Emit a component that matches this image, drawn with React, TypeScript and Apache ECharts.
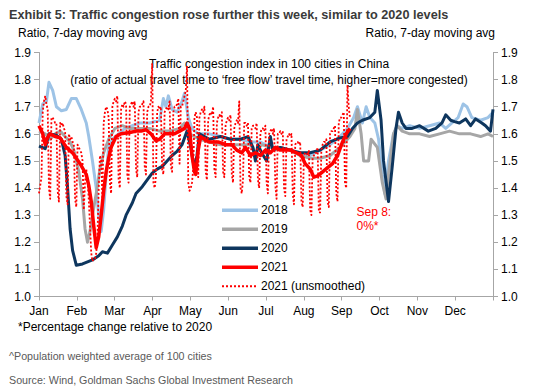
import React, { useEffect, useRef } from "react";
import * as echarts from "echarts";

const monthLabels = ["Jan", "Feb", "Mar", "Apr", "May", "Jun", "Jul", "Aug", "Sep", "Oct", "Nov", "Dec", ""];
const yMin = 1.0;
const yMax = 1.9;
const yStep = 0.1;
const legendNames = ["2018", "2019", "2020", "2021", "2021 (unsmoothed)"];

// [day of year, ratio]
const s2018: [number, number][] = [
  [0, 1.64], [3, 1.71], [6, 1.72], [8, 1.79], [11, 1.76], [14, 1.70], [18, 1.685], [22, 1.69],
  [26, 1.73], [30, 1.73], [34, 1.69], [38, 1.64], [40, 1.59], [43, 1.5], [46, 1.4], [48, 1.3],
  [50, 1.24], [52, 1.32], [54, 1.45], [56, 1.55], [59, 1.58], [64, 1.6], [69, 1.62], [75, 1.63],
  [81, 1.64], [89, 1.64], [97, 1.65], [100, 1.73], [102, 1.7], [104, 1.74], [107, 1.69], [111, 1.68],
  [115, 1.72], [117, 1.75], [120, 1.66], [123, 1.62], [128, 1.6], [137, 1.6], [146, 1.59], [154, 1.58],
  [162, 1.58], [170, 1.57], [178, 1.57], [186, 1.55], [194, 1.55], [202, 1.54], [210, 1.52], [218, 1.52],
  [226, 1.54], [234, 1.56], [242, 1.59], [248, 1.62], [253, 1.66], [256, 1.70], [260, 1.64], [263, 1.70],
  [266, 1.66], [270, 1.64], [273, 1.58], [276, 1.45], [278, 1.38], [281, 1.5], [285, 1.6], [288, 1.63],
  [292, 1.62], [298, 1.63], [306, 1.62], [314, 1.63], [322, 1.64], [327, 1.62], [332, 1.64], [337, 1.66],
  [341, 1.71], [344, 1.70], [348, 1.66], [355, 1.65], [361, 1.66], [365, 1.68],
];

const s2019: [number, number][] = [
  [0, 1.61], [5, 1.60], [9, 1.58], [13, 1.60], [17, 1.61], [21, 1.59], [25, 1.57], [28, 1.54],
  [32, 1.46], [35, 1.36], [37, 1.25], [39, 1.2], [41, 1.24], [43, 1.3], [46, 1.38], [49, 1.47],
  [52, 1.53], [56, 1.58], [61, 1.62], [67, 1.63], [73, 1.62], [81, 1.62], [89, 1.62], [97, 1.61],
  [105, 1.61], [113, 1.62], [117, 1.64], [121, 1.6], [129, 1.58], [137, 1.57], [146, 1.56], [154, 1.56],
  [162, 1.56], [170, 1.56], [174, 1.53], [179, 1.56], [186, 1.55], [194, 1.55], [202, 1.54], [210, 1.52],
  [218, 1.51], [226, 1.51], [234, 1.52], [242, 1.55], [250, 1.59], [254, 1.62], [256, 1.69], [259, 1.6],
  [261, 1.5], [265, 1.5], [267, 1.58], [272, 1.55], [276, 1.42], [279, 1.36], [281, 1.45], [285, 1.6],
  [288, 1.63], [292, 1.61], [298, 1.6], [306, 1.6], [314, 1.59], [322, 1.6], [330, 1.61], [338, 1.6],
  [347, 1.6], [355, 1.59], [361, 1.6], [365, 1.59],
];

const s2020: [number, number][] = [
  [0, 1.555], [5, 1.545], [8, 1.60], [14, 1.595], [18, 1.58], [21, 1.52], [23, 1.40], [25, 1.25],
  [27, 1.17], [30, 1.115], [35, 1.12], [43, 1.135], [48, 1.15], [51, 1.165], [55, 1.16], [59, 1.19],
  [63, 1.22], [67, 1.26], [70, 1.3], [75, 1.345], [78, 1.38], [83, 1.405], [87, 1.43], [91, 1.455],
  [95, 1.47], [99, 1.48], [103, 1.5], [107, 1.52], [111, 1.535], [115, 1.56], [119, 1.61], [122, 1.55],
  [125, 1.47], [127, 1.52], [129, 1.6], [133, 1.59], [137, 1.58], [146, 1.59], [154, 1.58], [162, 1.58],
  [168, 1.59], [172, 1.55], [174, 1.5], [176, 1.56], [179, 1.53], [183, 1.5], [186, 1.59], [188, 1.54],
  [194, 1.55], [202, 1.54], [210, 1.53], [218, 1.53], [226, 1.54], [234, 1.57], [242, 1.585], [248, 1.59],
  [252, 1.62], [256, 1.64], [260, 1.65], [266, 1.66], [270, 1.68], [272, 1.76], [275, 1.65], [277, 1.5],
  [281, 1.35], [284, 1.48], [287, 1.62], [289, 1.68], [292, 1.64], [295, 1.62], [300, 1.62], [306, 1.63],
  [313, 1.61], [319, 1.62], [324, 1.64], [327, 1.67], [331, 1.65], [334, 1.645], [338, 1.64], [343, 1.655],
  [347, 1.63], [351, 1.655], [356, 1.64], [359, 1.63], [363, 1.61], [365, 1.69],
];

const s2021: [number, number][] = [
  [0, 1.63], [3, 1.60], [5, 1.56], [6, 1.58], [9, 1.60], [13, 1.59], [17, 1.585], [22, 1.55],
  [27, 1.53], [33, 1.49], [38, 1.45], [40, 1.41], [42, 1.35], [44, 1.26], [46, 1.18], [48, 1.22],
  [50, 1.3], [52, 1.39], [54, 1.46], [56, 1.51], [58, 1.55], [62, 1.59], [66, 1.60], [73, 1.605],
  [78, 1.61], [82, 1.61], [86, 1.615], [90, 1.60], [94, 1.575], [97, 1.58], [101, 1.60], [105, 1.60],
  [109, 1.60], [113, 1.61], [117, 1.62], [119, 1.64], [121, 1.62], [123, 1.52], [125, 1.46], [126, 1.45],
  [128, 1.54], [130, 1.59], [133, 1.58], [137, 1.57], [144, 1.57], [150, 1.56], [155, 1.56], [159, 1.54],
  [163, 1.53], [166, 1.55], [170, 1.52], [174, 1.53], [178, 1.52], [182, 1.54], [186, 1.53], [190, 1.55],
  [194, 1.54], [202, 1.54], [207, 1.53], [211, 1.52], [214, 1.49], [218, 1.47], [221, 1.44], [224, 1.445],
  [228, 1.46], [232, 1.475], [236, 1.49], [240, 1.52], [244, 1.57], [247, 1.6], [250, 1.62],
];

// daily values from Jan 1 to Sep 8, 2021
const daily2021: number[] = [
  1.38, 1.41, 1.44,
  1.68, 1.72, 1.74, 1.71, 1.69, 1.40, 1.36,
  1.66, 1.66, 1.65, 1.64, 1.64, 1.39, 1.35,
  1.64, 1.63, 1.64, 1.62, 1.61, 1.37, 1.34,
  1.60, 1.58, 1.59, 1.57, 1.56, 1.36, 1.33,
  1.56, 1.55, 1.54, 1.53, 1.50, 1.32, 1.42,
  1.47, 1.43, 1.36, 1.26, 1.16, 1.13, 1.14,
  1.14, 1.16, 1.22, 1.40, 1.52, 1.50, 1.36,
  1.64, 1.68, 1.70, 1.69, 1.66, 1.42, 1.38,
  1.70, 1.72, 1.73, 1.72, 1.74, 1.43, 1.40,
  1.69, 1.71, 1.70, 1.72, 1.71, 1.45, 1.42,
  1.70, 1.71, 1.72, 1.70, 1.72, 1.47, 1.44,
  1.68, 1.70, 1.70, 1.71, 1.72, 1.48, 1.45,
  1.68, 1.70, 1.70, 1.72, 1.86, 1.42, 1.40,
  1.44, 1.68, 1.70, 1.69, 1.70, 1.47, 1.45,
  1.68, 1.69, 1.70, 1.69, 1.72, 1.48, 1.46,
  1.68, 1.70, 1.70, 1.71, 1.73, 1.49, 1.70,
  1.70, 1.72, 1.74, 1.76, 1.85, 1.42, 1.39,
  1.40, 1.42, 1.47, 1.66, 1.68, 1.66, 1.44,
  1.66, 1.68, 1.69, 1.68, 1.70, 1.46, 1.43,
  1.65, 1.67, 1.68, 1.67, 1.70, 1.47, 1.44,
  1.64, 1.66, 1.67, 1.66, 1.68, 1.46, 1.44,
  1.63, 1.65, 1.66, 1.65, 1.67, 1.45, 1.42,
  1.62, 1.64, 1.65, 1.64, 1.72, 1.40, 1.38,
  1.43, 1.64, 1.64, 1.63, 1.64, 1.44, 1.42,
  1.62, 1.63, 1.63, 1.62, 1.64, 1.43, 1.40,
  1.60, 1.62, 1.62, 1.61, 1.63, 1.42, 1.38,
  1.60, 1.61, 1.62, 1.60, 1.62, 1.41, 1.36,
  1.60, 1.60, 1.61, 1.60, 1.61, 1.40, 1.37,
  1.58, 1.59, 1.60, 1.59, 1.60, 1.38, 1.34,
  1.56, 1.57, 1.57, 1.56, 1.57, 1.35, 1.33,
  1.52, 1.53, 1.53, 1.52, 1.54, 1.32, 1.30,
  1.51, 1.52, 1.53, 1.53, 1.55, 1.31, 1.31,
  1.54, 1.56, 1.57, 1.57, 1.58, 1.35, 1.33,
  1.60, 1.61, 1.61, 1.62, 1.63, 1.38, 1.35,
  1.64, 1.66, 1.66, 1.67, 1.68, 1.42, 1.40,
  1.78, 1.70, 1.66,
];

const FONT = "'Liberation Sans', Arial, sans-serif";
const C2018 = "#9DC3E6";
const C2019 = "#A6A6A6";
const C2020 = "#0E365E";
const C2021 = "#FF0000";

export default function App() {
  const ref = useRef<HTMLDivElement>(null);
  useEffect(() => {
    if (!ref.current) return;
    const chart = echarts.init(ref.current, undefined, { renderer: "svg" });
    const yAxisCommon = {
      type: "value" as const,
      min: yMin,
      max: yMax,
      interval: yStep,
      splitLine: { show: false },
      axisLine: { show: true, lineStyle: { color: "#A6A6A6", width: 1 } },
      axisTick: { show: true, length: 5, lineStyle: { color: "#A6A6A6" } },
      axisLabel: {
        fontFamily: FONT,
        fontSize: 12,
        color: "#000",
        formatter: (v: number) => v.toFixed(1),
      },
    };
    const lineSeries = (name: string, data: [number, number][], color: string, width: number, type: any = "solid") => ({
      name,
      type: "line" as const,
      xAxisIndex: 1,
      yAxisIndex: 0,
      data,
      symbol: "none",
      showSymbol: false,
      smooth: false,
      lineStyle: { color, width, type, cap: "butt", join: "round" },
      itemStyle: { color },
    });
    const legendColors = [C2018, C2019, C2020, C2021, C2021];
    const legendY = [210.3, 229.3, 248.3, 267.3, 286.3];
    const legendGraphics: any[] = [];
    legendNames.forEach((name, i) => {
      const dotted = i === 4;
      legendGraphics.push({
        type: "line",
        shape: { x1: 222, y1: legendY[i], x2: 258, y2: legendY[i] },
        style: {
          stroke: legendColors[i],
          lineWidth: dotted ? 2 : 3.5,
          lineDash: dotted ? [2, 2] : null,
        },
      });
      legendGraphics.push({
        type: "text",
        x: 261,
        y: legendY[i],
        style: { text: name, fontFamily: FONT, fontSize: 12, fill: "#000", align: "left", verticalAlign: "middle" },
      });
    });
    chart.setOption({
      animation: false,
      backgroundColor: "#fff",
      grid: { left: 39, right: 41, top: 52.5, bottom: 95.5, containLabel: false },
      xAxis: [
        {
          type: "category",
          data: monthLabels,
          boundaryGap: false,
          position: "bottom",
          axisLine: { show: true, lineStyle: { color: "#A6A6A6" } },
          axisTick: { show: true, length: 4, interval: 0, lineStyle: { color: "#A6A6A6" } },
          axisLabel: { interval: 0, fontFamily: FONT, fontSize: 12, color: "#000", margin: 8 },
          splitLine: { show: false },
        },
        { type: "value", min: 0, max: 365, show: false },
      ],
      yAxis: [
        { ...yAxisCommon, position: "left", axisLabel: { ...yAxisCommon.axisLabel, margin: 8 } },
        { ...yAxisCommon, position: "right", axisLabel: { ...yAxisCommon.axisLabel, margin: 8 } },
      ],
      series: [
        lineSeries("2018", s2018, C2018, 3),
        lineSeries("2019", s2019, C2019, 3),
        lineSeries("2020", s2020, C2020, 3),
        lineSeries("2021 (unsmoothed)", daily2021.map((v, i) => [i, v] as [number, number]), C2021, 1.8, [2, 2]),
        lineSeries("2021", s2021, C2021, 3.5),
      ],
      graphic: [
        { type: "text", left: 9, top: 8, style: { text: "Exhibit 5: Traffic congestion rose further this week, similar to 2020 levels", fontFamily: FONT, fontSize: 12.7, fontWeight: "bold", fill: "#3A3A3A" } },
        { type: "text", left: 18, top: 27, style: { text: "Ratio, 7-day moving avg", fontFamily: FONT, fontSize: 12, fill: "#000" } },
        { type: "text", right: 39, top: 27, style: { text: "Ratio, 7-day moving avg", fontFamily: FONT, fontSize: 12, fill: "#000" } },
        { type: "text", x: 269, y: 64, style: { text: "Traffic congestion index in 100 cities in China", fontFamily: FONT, fontSize: 12, fill: "#000", align: "center", verticalAlign: "middle" } },
        { type: "text", x: 269, y: 80, style: { text: "(ratio of actual travel time to \u2018free flow\u2019 travel time, higher=more congested)", fontFamily: FONT, fontSize: 12, fill: "#000", align: "center", verticalAlign: "middle" } },
        { type: "text", x: 356.5, y: 212, style: { text: "Sep 8:", fontFamily: FONT, fontSize: 12, fill: "#FF0000", align: "left", verticalAlign: "middle" } },
        { type: "text", x: 356.5, y: 225.5, style: { text: "0%*", fontFamily: FONT, fontSize: 12, fill: "#FF0000", align: "left", verticalAlign: "middle" } },
        { type: "text", x: 18, y: 327, style: { text: "*Percentage change relative to 2020", fontFamily: FONT, fontSize: 12, fill: "#000", align: "left", verticalAlign: "middle" } },
        { type: "text", x: 9, y: 356, style: { text: "^Population weighted average of 100 cities", fontFamily: FONT, fontSize: 10.7, fill: "#595959", align: "left", verticalAlign: "middle" } },
        { type: "text", x: 9, y: 380, style: { text: "Source: Wind, Goldman Sachs Global Investment Research", fontFamily: FONT, fontSize: 10.7, fill: "#595959", align: "left", verticalAlign: "middle" } },
        ...legendGraphics,
      ],
    });
    return () => chart.dispose();
  }, []);
  return <div ref={ref} style={{ position: "absolute", left: 0, top: 0, width: 534, height: 392 }} />;
}
